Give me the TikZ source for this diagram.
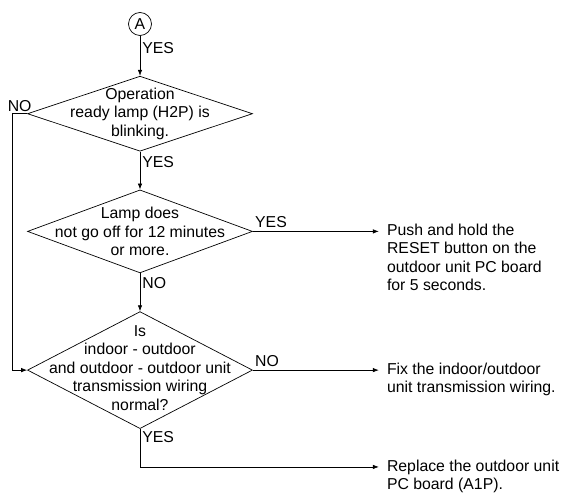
\documentclass[tikz,border=0pt]{standalone}
\usepackage{fontspec}
\setmainfont{Liberation Sans}
\usepackage{tikz}
\usetikzlibrary{positioning, arrows.meta, shapes.geometric}
\tikzset{
  check/.style = {diamond, draw, line width=0.7pt, inner sep=0pt,
                  minimum width=225pt},
  conn/.style  = {circle, draw, line width=0.7pt, inner sep=0pt,
                  minimum size=23pt, font=\fontsize{15.8}{18.5}\selectfont},
  txt/.style   = {align=center, inner sep=0pt,
                  font=\fontsize{15.8}{18.5}\selectfont},
  note/.style  = {align=left, anchor=north west, inner sep=0pt,
                  font=\fontsize{15.8}{18.3}\selectfont},
  lbl/.style   = {inner sep=2pt, font=\fontsize{15.8}{18.5}\selectfont},
  arr/.style   = {-{Latex[length=6pt,width=4.5pt]}, line width=0.7pt},
}

\begin{document}
\begin{tikzpicture}[node distance=38pt]
  \useasboundingbox (0pt,0pt) rectangle (564pt,-492pt);

  % start connector
  \node[conn] (a) at (140pt,-24pt) {A};

  % checks
  \node[check, minimum height=75pt, below=40pt of a] (d1) {};
  \node[txt] (q1) at (d1.center) {Operation\\ready lamp (H2P) is\\blinking.};
  \node[check, minimum height=83pt, below=of d1] (d2) {};
  \node[txt] (q2) at (d2.center) {Lamp does\\not go off for 12 minutes\\or more.};
  \node[check, minimum height=117pt, below=of d2] (d3) {};
  \node[txt] (q3) at ([yshift=2pt]d3.center)
       {Is\\indoor - outdoor\\and outdoor - outdoor unit\\transmission wiring\\normal?};

  % actions
  \coordinate[right=126pt of d2.east] (t1);
  \coordinate[right=126pt of d3.east] (t2);
  \coordinate[below=38pt of d3.south] (k3);
  \coordinate (t3) at (k3 -| t1);
  \node[note] (r1) at ([xshift=8pt, yshift=7.5pt]t1)
       {Push and hold the\\RESET button on the\\outdoor unit PC board\\for 5 seconds.};
  \node[note] (r2) at ([xshift=8pt, yshift=7.5pt]t2)
       {Fix the indoor/outdoor\\unit transmission wiring.};
  \node[note] (r3) at ([xshift=8pt, yshift=7.5pt]t3)
       {Replace the outdoor unit\\PC board (A1P).};

  % connectors
  \draw[arr] (a) -- node[lbl, pos=0, anchor=north west, yshift=-4pt]{YES} (d1.north);
  \draw[arr] (d1.south) -- node[lbl, pos=0, anchor=north west, yshift=-3pt]{YES} (d2.north);
  \draw[arr] (d2.south) -- node[lbl, pos=0, anchor=north west, yshift=-2pt]{NO} (d3.north);
  \draw[arr] (d1.west) -- node[lbl, above]{NO} ++(-15pt,0) |- (d3.west);
  \draw[arr] (d2.east) -- node[lbl, pos=0, anchor=south west, yshift=1pt]{YES} (t1);
  \draw[arr] (d3.east) -- node[lbl, pos=0, anchor=south west, yshift=1pt]{NO} (t2);
  \draw[arr] (d3.south) -- node[lbl, pos=0, anchor=north west]{YES} (k3) -- (t3);

\end{tikzpicture}
\end{document}
